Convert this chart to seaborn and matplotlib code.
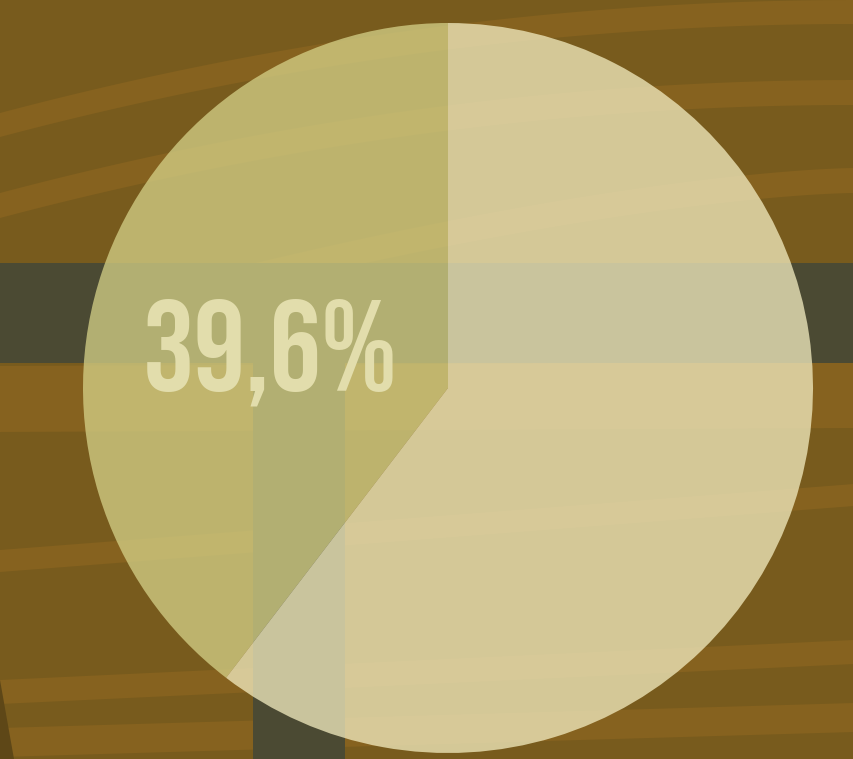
import numpy as np
import matplotlib
matplotlib.use('Agg')
import matplotlib.pyplot as plt
import seaborn as sns

sns.set_style('white')
plt.rcParams['font.family'] = ['Bebas Neue', 'Oswald', 'DejaVu Sans']

# data
labels = ['share', 'rest']
shares = [39.6, 60.4]
slice_colors = ['#D4D087', '#F2EBBF']
label_text = '39,6%'

# wood grain stripes, read in image pixels: y at left edge, y at right edge, thickness, bend
grain_left = [113, 193, 330, 366, 550, 680, 728]
grain_right = [0, 80, 168, 362, 484, 640, 703]
grain_thick = [24, 25, 25, 66, 22, 24, 29]
grain_bend = [2.0, 2.0, 1.5, 1.0, 1.0, 1.0, 1.0]
W, H = 854, 759


fig = plt.figure(figsize=(8.54, 7.59), dpi=100)
ax = fig.add_axes([0, 0, 1, 1])
fig.patch.set_facecolor('#785B1D')
ax.set_facecolor('#785B1D')

xs = np.linspace(0, W, 300)
for yl, yr, t, k in zip(grain_left, grain_right, grain_thick, grain_bend):
    yc = yr + (yl - yr) * (1 - xs / W) ** k
    ax.fill_between(xs, H - yc, H - (yc + t), color='#86621F', lw=0, zorder=1)
# darker knot in the bottom-left corner
ax.fill([0, 14, 0], [H - 680, 0, 0], color='#5E4717', lw=0, zorder=1)

# dark bands behind the pie
ax.fill_between([0, W], H - 263, H - 363, color='#4B4A33', lw=0, zorder=2)
ax.fill_between([253, 345], H - 363, 0, color='#4B4A33', lw=0, zorder=2)

wedges, _ = ax.pie(shares, colors=slice_colors, startangle=90, counterclock=True,
                   center=(448, H - 388), radius=365, frame=True,
                   wedgeprops=dict(alpha=0.76, linewidth=0))
for w in wedges:
    w.set_zorder(3)
ax.set_xlim(0, W)
ax.set_ylim(0, H)
ax.set_aspect('auto')
ax.axis('off')

ax.text(270, H - 390, label_text, ha='center', va='baseline', fontsize=93,
        color='#E2DDAC', zorder=4)

fig.savefig('out.png', dpi=100, facecolor=fig.get_facecolor())
